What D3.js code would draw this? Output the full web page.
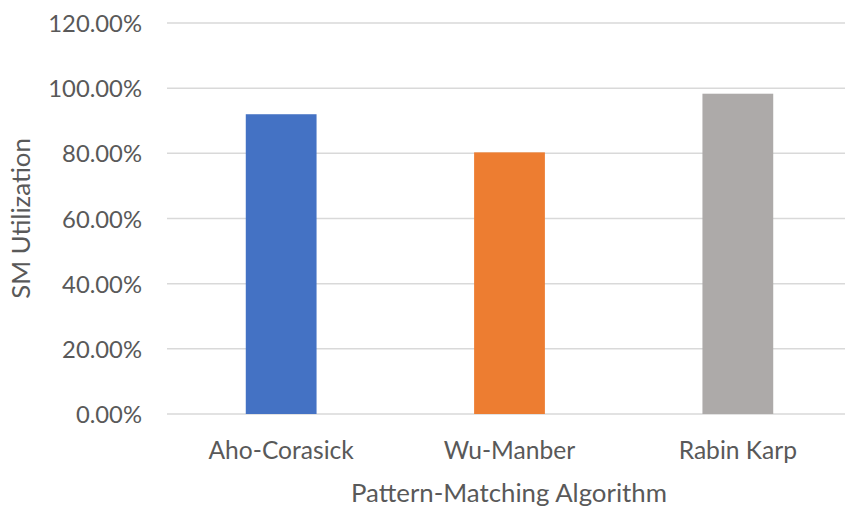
<!DOCTYPE html>
<html>
<head>
<meta charset="utf-8">
<script src="https://cdn.jsdelivr.net/npm/d3@7"></script>
<style>
  html, body { margin: 0; padding: 0; background: #fff; }
  svg { display: block; }
  text { font-family: Lato, "Open Sans", sans-serif; fill: #595959; }
</style>
</head>
<body>
<svg id="chart" width="845" height="506"></svg>
<script>
const categories = ["Aho-Corasick", "Wu-Manber", "Rabin Karp"];
const values = [0.92, 0.803, 0.983];
const colors = ["#4472C4", "#ED7D31", "#ADAAA9"];
const yTicks = [0, 0.2, 0.4, 0.6, 0.8, 1.0, 1.2];
const xTitle = "Pattern-Matching Algorithm";
const yTitle = "SM Utilization";

const svg = d3.select("#chart");
const W = 845, H = 506;
const mLeft = 167, mRight = 852, mTop = 23, mBottom = 414;

const x = d3.scaleBand().domain(categories).range([mLeft, mRight]).paddingInner(0.69).paddingOuter(0.345);
const y = d3.scaleLinear().domain([0, 1.2]).range([mBottom, mTop]);
const fmt = d3.format(".2%");

// gridlines
svg.append("g").selectAll("line").data(yTicks).join("line")
  .attr("x1", mLeft).attr("x2", W)
  .attr("y1", d => y(d)).attr("y2", d => y(d))
  .attr("stroke", "#D9D9D9").attr("stroke-width", 1.5);

// y tick labels
svg.append("g").selectAll("text").data(yTicks).join("text")
  .attr("x", 142).attr("y", d => y(d))
  .attr("text-anchor", "end").attr("dominant-baseline", "central")
  .style("font-size", "23.8px")
  .text(d => fmt(d));

// bars
svg.append("g").selectAll("rect").data(values).join("rect")
  .attr("x", (d, i) => x(categories[i]))
  .attr("width", x.bandwidth())
  .attr("y", d => y(d))
  .attr("height", d => y(0) - y(d))
  .attr("fill", (d, i) => colors[i]);

// x tick labels
svg.append("g").selectAll("text").data(categories).join("text")
  .attr("x", d => x(d) + x.bandwidth() / 2).attr("y", 459)
  .attr("text-anchor", "middle")
  .style("font-size", "24.6px")
  .text(d => d);

// axis titles
svg.append("text")
  .attr("x", 509).attr("y", 502)
  .attr("text-anchor", "middle")
  .style("font-size", "25.8px")
  .text(xTitle);

svg.append("text")
  .attr("transform", `translate(30, ${(mTop + mBottom) / 2}) rotate(-90)`)
  .attr("text-anchor", "middle")
  .style("font-size", "25.8px")
  .text(yTitle);
</script>
</body>
</html>
